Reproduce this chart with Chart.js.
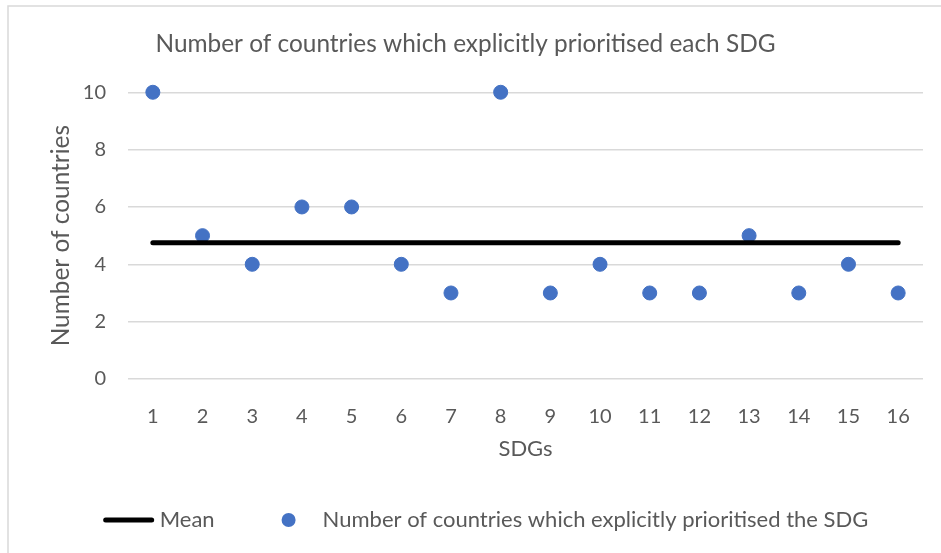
<!DOCTYPE html>
<html>
<head>
<meta charset="utf-8">
<script src="https://cdn.jsdelivr.net/npm/chart.js@4.4.1/dist/chart.umd.min.js"></script>
<style>
  html, body { margin: 0; padding: 0; background: #ffffff; }
  #chart { display: block; }
</style>
</head>
<body>
<canvas id="chart" width="941" height="553"></canvas>
<script>
// SDG numbers along the horizontal axis
const sdgLabels = ['1', '2', '3', '4', '5', '6', '7', '8', '9', '10', '11', '12', '13', '14', '15', '16'];
// Countries that explicitly prioritised each SDG
const countryCounts = [10, 5, 4, 6, 6, 4, 3, 10, 3, 4, 3, 3, 5, 3, 4, 3];
// Mean across all SDGs, repeated for every category
const meanLevels = [4.75, 4.75, 4.75, 4.75, 4.75, 4.75, 4.75, 4.75, 4.75, 4.75, 4.75, 4.75, 4.75, 4.75, 4.75, 4.75];
// Value axis ticks
const yTickValues = [0, 2, 4, 6, 8, 10];

const seriesNames = ['Mean', 'Number of countries which explicitly prioritised the SDG'];
const FONT = 'Lato';
const TEXT = '#595959';
const GRID = '#d9d9d9';
const DOT = '#4472C4';

// White page with a thin frame around the chart
const framePlugin = {
  id: 'frame',
  beforeDraw(chart) {
    const ctx = chart.ctx;
    ctx.save();
    ctx.fillStyle = '#ffffff';
    ctx.fillRect(0, 0, chart.width, chart.height);
    ctx.strokeStyle = GRID;
    ctx.lineWidth = 1.5;
    ctx.strokeRect(8, 6, chart.width + 20, chart.height + 20);
    ctx.restore();
  }
};

// Legend drawn below the axis title: a line swatch for the mean, a dot for the counts
const legendPlugin = {
  id: 'bottomLegend',
  afterDraw(chart) {
    const ctx = chart.ctx;
    const ds = chart.data.datasets;
    const y = 520;
    const lineLen = 50;
    const dotR = 7;
    ctx.save();
    ctx.font = '22px ' + FONT;
    ctx.textBaseline = 'middle';
    ctx.textAlign = 'left';
    const w0 = ctx.measureText(ds[0].label).width;
    const w1 = ctx.measureText(ds[1].label).width;
    const total = lineLen + 6 + w0 + 67 + dotR * 2 + 27 + w1;
    let x = 486 - total / 2;

    ctx.strokeStyle = ds[0].borderColor;
    ctx.lineWidth = 5;
    ctx.lineCap = 'round';
    ctx.beginPath();
    ctx.moveTo(x + 2, y);
    ctx.lineTo(x + lineLen - 2, y);
    ctx.stroke();
    x += lineLen + 6;
    ctx.fillStyle = TEXT;
    ctx.fillText(ds[0].label, x, y);
    x += w0 + 67;

    ctx.fillStyle = ds[1].pointBackgroundColor;
    ctx.beginPath();
    ctx.arc(x + dotR, y, dotR, 0, Math.PI * 2);
    ctx.fill();
    x += dotR * 2 + 27;
    ctx.fillStyle = TEXT;
    ctx.fillText(ds[1].label, x, y);
    ctx.restore();
  }
};

new Chart(document.getElementById('chart'), {
  type: 'line',
  data: {
    labels: sdgLabels,
    datasets: [
      {
        label: seriesNames[0],
        data: meanLevels,
        borderColor: '#000000',
        borderWidth: 5,
        borderCapStyle: 'round',
        pointRadius: 0,
        fill: false,
        clip: false
      },
      {
        label: seriesNames[1],
        data: countryCounts,
        showLine: false,
        pointRadius: 7,
        pointBorderWidth: 1,
        pointBackgroundColor: DOT,
        pointBorderColor: DOT,
        borderColor: DOT,
        clip: false
      }
    ]
  },
  options: {
    responsive: false,
    animation: false,
    devicePixelRatio: 1,
    layout: { padding: { left: 8, right: 18, top: 0, bottom: 79 } },
    plugins: {
      legend: { display: false },
      tooltip: { enabled: false },
      title: {
        display: true,
        text: 'Number of countries which explicitly prioritised each SDG',
        color: TEXT,
        font: { family: FONT, size: 24.4, weight: 'normal' },
        padding: { top: 30, bottom: 33 }
      }
    },
    scales: {
      x: {
        type: 'category',
        offset: true,
        grid: { display: false },
        border: { display: false },
        ticks: {
          color: TEXT,
          font: { family: FONT, size: 20 },
          padding: 18,
          maxRotation: 0,
          autoSkip: false
        },
        title: {
          display: true,
          text: 'SDGs',
          color: TEXT,
          font: { family: FONT, size: 22 },
          padding: { top: 0, bottom: 12 }
        },
        afterFit(scale) { scale.height = 95; }
      },
      y: {
        min: 0,
        max: 10,
        afterBuildTicks(scale) { scale.ticks = yTickValues.map(v => ({ value: v })); },
        grid: { color: GRID, lineWidth: 1.5, drawTicks: false },
        border: { display: false },
        ticks: {
          color: TEXT,
          font: { family: FONT, size: 20 },
          padding: 22
        },
        title: {
          display: true,
          text: 'Number of countries',
          color: TEXT,
          font: { family: FONT, size: 24.4 },
          padding: { top: 39, bottom: 0 }
        },
        afterFit(scale) { scale.width = 120; }
      }
    }
  },
  plugins: [framePlugin, legendPlugin]
});
</script>
</body>
</html>
